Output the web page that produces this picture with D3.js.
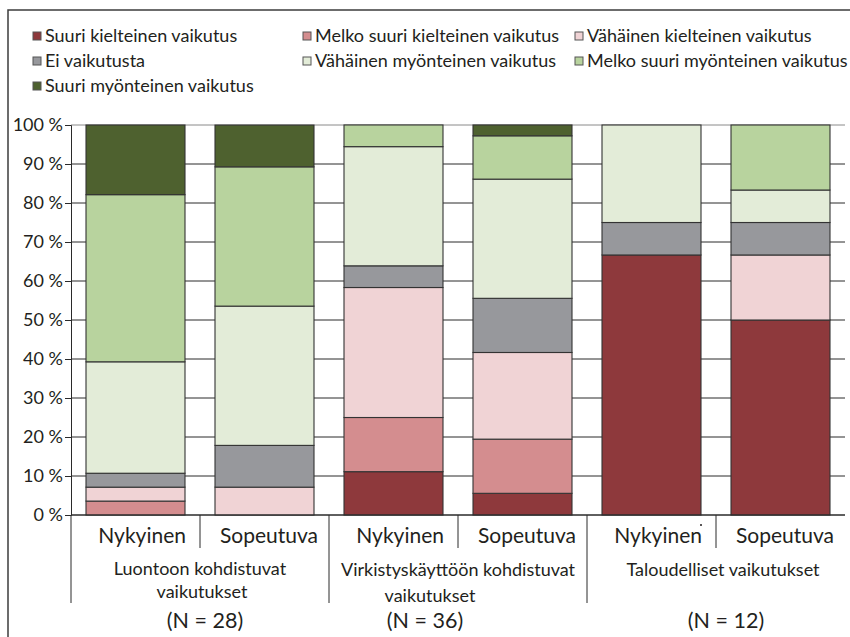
<!DOCTYPE html>
<html>
<head>
<meta charset="utf-8">
<script src="https://cdn.jsdelivr.net/npm/d3@7"></script>
<style>
  body { margin: 0; background: #fff; }
  text { font-family: Lato, "DejaVu Sans", sans-serif; fill: #231f20; }
</style>
</head>
<body>
<div id="chart"></div>
<script>
// Data (percent of answers)
const bars = ['Luontoon-Nykyinen', 'Luontoon-Sopeutuva', 'Virkistys-Nykyinen', 'Virkistys-Sopeutuva', 'Talous-Nykyinen', 'Talous-Sopeutuva'];
const barLabels = ['Nykyinen', 'Sopeutuva', 'Nykyinen', 'Sopeutuva', 'Nykyinen', 'Sopeutuva'];
const groupLabels = [['Luontoon kohdistuvat', 'vaikutukset'], ['Virkistyskäyttöön kohdistuvat', 'vaikutukset'], ['Taloudelliset vaikutukset']];
const groupN = ['(N = 28)', '(N = 36)', '(N = 12)'];
const seriesNames = ['Suuri kielteinen vaikutus', 'Melko suuri kielteinen vaikutus', 'Vähäinen kielteinen vaikutus',
  'Ei vaikutusta', 'Vähäinen myönteinen vaikutus', 'Melko suuri myönteinen vaikutus', 'Suuri myönteinen vaikutus'];
const suuriKielteinen = [0, 0, 11.11, 5.56, 66.67, 50];
const melkoKielteinen = [3.57, 0, 13.89, 13.89, 0, 0];
const vahainenKielteinen = [3.57, 7.14, 33.33, 22.22, 0, 16.67];
const eiVaikutusta = [3.57, 10.71, 5.56, 13.89, 8.33, 8.33];
const vahainenMyonteinen = [28.57, 35.71, 30.56, 30.56, 25, 8.33];
const melkoMyonteinen = [42.86, 35.71, 5.56, 11.11, 0, 16.67];
const suuriMyonteinen = [17.86, 10.71, 0, 2.78, 0, 0];
const yTicks = [0, 10, 20, 30, 40, 50, 60, 70, 80, 90, 100];

const colors = ['#8e393c', '#d48d8f', '#f0d3d5', '#97989c', '#e3ecd8', '#b8d39e', '#4e612f'];
const seriesValues = [suuriKielteinen, melkoKielteinen, vahainenKielteinen, eiVaikutusta, vahainenMyonteinen, melkoMyonteinen, suuriMyonteinen];

const width = 850, height = 637;
const margins = { top: 125, right: 5, bottom: 122, left: 71 };

const table = bars.map((b, i) => {
  const row = { bar: b };
  seriesNames.forEach((s, j) => { row[s] = seriesValues[j][i]; });
  return row;
});
const stacked = d3.stack().keys(seriesNames)(table);

const svg = d3.select('#chart').append('svg')
  .attr('width', width)
  .attr('height', height)
  .attr('viewBox', `0 0 ${width} ${height}`);

svg.append('rect').attr('width', width).attr('height', height).attr('fill', '#fff');

// outer frame
svg.append('rect')
  .attr('x', 8).attr('y', 10)
  .attr('width', 852).attr('height', 660)
  .attr('fill', 'none')
  .attr('stroke', '#3c3c3c')
  .attr('stroke-width', 1.5);

const x = d3.scaleBand()
  .domain(bars)
  .range([margins.left, width - margins.right])
  .paddingInner(0.2326)
  .paddingOuter(0.1163);
const step = x.step();
const x0 = margins.left;

const y = d3.scaleLinear()
  .domain([0, 100])
  .range([height - margins.bottom, margins.top]);

// gridlines
svg.append('g')
  .selectAll('line')
  .data(yTicks)
  .join('line')
  .attr('x1', margins.left)
  .attr('x2', width - margins.right)
  .attr('y1', d => y(d))
  .attr('y2', d => y(d))
  .attr('stroke', d => d === 100 ? '#8a8a8a' : '#2a2a2a')
  .attr('stroke-width', 1);

// y axis
const yAxis = svg.append('g')
  .attr('transform', `translate(${margins.left},0)`)
  .call(d3.axisLeft(y).tickValues(yTicks).tickSize(6).tickPadding(2).tickFormat(d => `${d} %`));
yAxis.select('.domain').attr('stroke', '#2a2a2a');
yAxis.selectAll('.tick line').attr('stroke', '#2a2a2a');
yAxis.selectAll('.tick text')
  .attr('font-size', 18)
  .attr('font-family', 'Lato, sans-serif')
  .attr('fill', '#231f20');

// bars
const layers = svg.append('g')
  .selectAll('g')
  .data(stacked)
  .join('g')
  .attr('fill', (d, i) => colors[i]);

layers.selectAll('rect')
  .data(d => d.filter(p => p[1] - p[0] > 0))
  .join('rect')
  .attr('x', d => x(d.data.bar))
  .attr('y', d => y(d[1]))
  .attr('width', x.bandwidth())
  .attr('height', d => y(d[0]) - y(d[1]))
  .attr('stroke', '#333')
  .attr('stroke-width', 1.1);

// category axis
const axisY = y(0);
svg.append('line')
  .attr('x1', margins.left).attr('x2', width - margins.right)
  .attr('y1', axisY).attr('y2', axisY)
  .attr('stroke', '#2a2a2a');

const sep = svg.append('g').attr('stroke', '#2a2a2a');
bars.forEach((b, i) => {
  const xs = x0 + step * (i + 1);
  if (i % 2 === 0) {
    sep.append('line').attr('x1', xs).attr('x2', xs).attr('y1', axisY).attr('y2', axisY + 33);
  }
});
d3.range(0, 3).forEach(g => {
  const xs = x0 + step * 2 * g;
  sep.append('line').attr('x1', xs).attr('x2', xs).attr('y1', axisY).attr('y2', axisY + 88);
});

svg.append('g')
  .selectAll('text')
  .data(barLabels)
  .join('text')
  .attr('x', (d, i) => x0 + step * (i + 1) - (i % 2 === 0 ? 14 : 11))
  .attr('y', axisY + 28)
  .attr('text-anchor', 'end')
  .attr('font-size', 21)
  .text(d => d);

// group labels
const groupShift = [[0, 2], [0, -28], [7]];
const groupLineY = [[60, 83], [61, 87], [61]];
groupLabels.forEach((lines, g) => {
  const cx = x0 + step * (2 * g + 1);
  lines.forEach((t, k) => {
    svg.append('text')
      .attr('x', cx + groupShift[g][k])
      .attr('y', axisY + groupLineY[g][k])
      .attr('text-anchor', 'middle')
      .attr('font-size', 18)
      .text(t);
  });
});

const nShift = [5, -33, 10];
groupN.forEach((t, g) => {
  svg.append('text')
    .attr('x', x0 + step * (2 * g + 1) + nShift[g])
    .attr('y', axisY + 113)
    .attr('text-anchor', 'middle')
    .attr('font-size', 21.5)
    .text(t);
});

// stray dot next to the third "Nykyinen"
svg.append('circle').attr('cx', 701).attr('cy', 525).attr('r', 1).attr('fill', '#231f20');

// legend
const legendCols = [33, 303, 575];
const legendRows = [36, 61, 86];
const legend = svg.append('g')
  .selectAll('g')
  .data(seriesNames)
  .join('g')
  .attr('transform', (d, i) => `translate(${legendCols[i % 3]},${legendRows[Math.floor(i / 3)]})`);

legend.append('rect')
  .attr('x', 0).attr('y', -4)
  .attr('width', 8).attr('height', 8)
  .attr('fill', (d, i) => colors[i])
  .attr('stroke', '#555')
  .attr('stroke-width', 1);

legend.append('text')
  .attr('x', 12)
  .attr('y', 5.5)
  .attr('font-size', 18)
  .text(d => d);
</script>
</body>
</html>
